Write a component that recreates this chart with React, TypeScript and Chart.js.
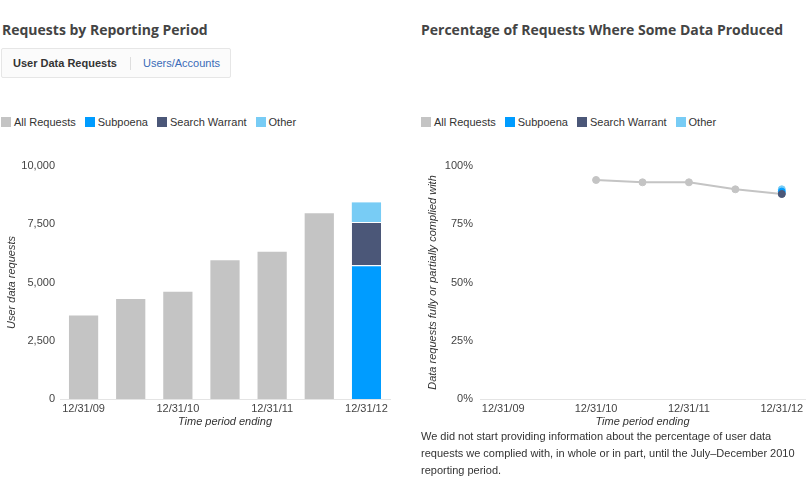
import React, { useEffect, useRef } from 'react';
import { Chart, registerables } from 'chart.js';
Chart.register(...registerables);

const periods = ['12/31/09', '6/30/10', '12/31/10', '6/30/11', '12/31/11', '6/30/12', '12/31/12'];
const allRequests = [3580, 4287, 4601, 5950, 6321, 7969, null];
const subpoena = [null, null, null, null, null, null, 5738];
const searchWarrant = [null, null, null, null, null, null, 1856];
const other = [null, null, null, null, null, null, 844];
const pctAll = [null, null, 94, 93, 93, 90, 88];
const pctSubpoena = [null, null, null, null, null, null, 89];
const pctWarrant = [null, null, null, null, null, null, 88];
const pctOther = [null, null, null, null, null, null, 90];
const legendItems = ['All Requests', 'Subpoena', 'Search Warrant', 'Other'];

const C_GRAY = '#c4c4c4';
const C_SUB = '#009cff';
const C_SW = '#4b5778';
const C_OTH = '#78ccf5';
const legendColors = [C_GRAY, C_SUB, C_SW, C_OTH];
const FONT = 'Arial, "Liberation Sans", sans-serif';

const tickFont = { family: FONT, size: 11 };
const titleFont = { family: FONT, size: 11, style: 'italic' as const };

function xScale(stacked: boolean) {
  return {
    stacked,
    offset: true,
    grid: { display: false, drawTicks: false },
    border: { display: true, color: '#e4e4e4', width: 1 },
    ticks: {
      autoSkip: false,
      maxRotation: 0,
      padding: 3,
      color: '#444',
      font: tickFont,
      callback: (_v: any, i: number) => (periods[i].startsWith('12/') ? periods[i] : ''),
    },
    title: { display: true, text: 'Time period ending', color: '#333', font: titleFont, padding: { top: 0, bottom: 1 } },
    afterFit: (s: any) => { s.height = 31; },
  };
}

function Legend({ left }: { left: number }) {
  return (
    <div style={{ position: 'absolute', left, top: 115, display: 'flex', alignItems: 'center', font: `11px ${FONT}`, color: '#333', whiteSpace: 'nowrap' }}>
      {legendItems.map((t, i) => (
        <div key={t} style={{ display: 'flex', alignItems: 'center', marginRight: 9 }}>
          <span style={{ display: 'inline-block', width: 10, height: 10, background: legendColors[i], marginRight: 3 }} />
          <span style={{ lineHeight: '14px' }}>{t}</span>
        </div>
      ))}
    </div>
  );
}

export default function App() {
  const leftRef = useRef<HTMLCanvasElement>(null);
  const rightRef = useRef<HTMLCanvasElement>(null);

  useEffect(() => {
    const bw = { top: 1, left: 0, right: 0, bottom: 0 };
    const left = new Chart(leftRef.current!, {
      type: 'bar',
      data: {
        labels: periods,
        datasets: [
          { label: 'All Requests', data: allRequests, backgroundColor: C_GRAY, borderWidth: 0 },
          { label: 'Subpoena', data: subpoena, backgroundColor: C_SUB, borderColor: '#fff', borderWidth: bw, borderSkipped: false },
          { label: 'Search Warrant', data: searchWarrant, backgroundColor: C_SW, borderColor: '#fff', borderWidth: bw, borderSkipped: false },
          { label: 'Other', data: other, backgroundColor: C_OTH, borderWidth: 0 },
        ] as any,
      },
      options: {
        animation: false,
        responsive: true,
        maintainAspectRatio: false,
        layout: { padding: { top: 15, right: 10, left: 0, bottom: 0 } },
        datasets: { bar: { barPercentage: 0.62, categoryPercentage: 1 } },
        plugins: { legend: { display: false }, tooltip: { enabled: false } },
        scales: {
          x: xScale(true) as any,
          y: {
            stacked: true,
            min: 0,
            max: 10000,
            grid: { display: false, drawTicks: false },
            border: { display: false },
            ticks: {
              stepSize: 2500,
              padding: 5,
              color: '#444',
              font: tickFont,
              callback: (v: any) => Number(v).toLocaleString('en-US'),
            },
            title: { display: true, text: 'User data requests', color: '#333', font: titleFont, padding: { top: 5, bottom: 0 } },
            afterFit: (s: any) => { s.width = 60; },
          } as any,
        },
      },
    });

    const ptDs = (label: string, data: any[], color: string, order: number) => ({
      label, data, borderColor: color, backgroundColor: color, pointRadius: 3.5, pointBorderWidth: 1, showLine: false, order,
    });
    const right = new Chart(rightRef.current!, {
      type: 'line',
      data: {
        labels: periods,
        datasets: [
          { label: 'All Requests', data: pctAll, borderColor: C_GRAY, backgroundColor: C_GRAY, borderWidth: 2, pointRadius: 3.5, pointBorderWidth: 1, order: 4 },
          ptDs('Other', pctOther, C_OTH, 3),
          ptDs('Subpoena', pctSubpoena, C_SUB, 2),
          ptDs('Search Warrant', pctWarrant, C_SW, 1),
        ] as any,
      },
      options: {
        animation: false,
        responsive: true,
        maintainAspectRatio: false,
        layout: { padding: { top: 15, right: 0, left: 0, bottom: 0 } },
        plugins: { legend: { display: false }, tooltip: { enabled: false } },
        scales: {
          x: xScale(false) as any,
          y: {
            min: 0,
            max: 100,
            grid: { display: false, drawTicks: false },
            border: { display: false },
            ticks: { stepSize: 25, padding: 7, color: '#444', font: tickFont, callback: (v: any) => v + '%' },
            title: { display: true, text: 'Data requests fully or partially complied with', color: '#333', font: titleFont, padding: { top: 5, bottom: 0 } },
            afterFit: (s: any) => { s.width = 59; },
          } as any,
        },
      },
    });
    return () => { left.destroy(); right.destroy(); };
  }, []);

  const titleStyle: React.CSSProperties = { position: 'absolute', top: 20, font: `bold 14px "Open Sans", ${FONT}`, lineHeight: '20px', color: '#444', whiteSpace: 'nowrap' };

  return (
    <div style={{ position: 'absolute', left: 0, top: 0, width: 810, height: 483, background: '#fff', overflow: 'hidden', fontFamily: FONT }}>
      <div style={{ ...titleStyle, left: 2 }}>Requests by Reporting Period</div>
      <div style={{ ...titleStyle, left: 421 }}>Percentage of Requests Where Some Data Produced</div>

      <div style={{ position: 'absolute', left: 1, top: 48, width: 228, height: 28, border: '1px solid #e6e6e6', borderRadius: 2, background: '#fbfbfb' }}>
        <span style={{ position: 'absolute', left: 11, top: 7, font: `bold 11px ${FONT}`, color: '#333', lineHeight: '14px' }}>User Data Requests</span>
        <span style={{ position: 'absolute', left: 128, top: 8, width: 1, height: 13, background: '#dedede' }} />
        <span style={{ position: 'absolute', left: 141, top: 7, font: `11px ${FONT}`, color: '#3a6bb8', lineHeight: '14px' }}>Users/Accounts</span>
      </div>

      <Legend left={1} />
      <Legend left={421} />

      <div style={{ position: 'absolute', left: 0, top: 151, width: 400, height: 279 }}>
        <canvas ref={leftRef} />
      </div>
      <div style={{ position: 'absolute', left: 421, top: 151, width: 389, height: 279 }}>
        <canvas ref={rightRef} />
      </div>

      <div style={{ position: 'absolute', left: 421, top: 428, font: `11px ${FONT}`, lineHeight: '17px', color: '#333', whiteSpace: 'nowrap' }}>
        We did not start providing information about the percentage of user data<br />
        requests we complied with, in whole or in part, until the July–December 2010<br />
        reporting period.
      </div>
    </div>
  );
}
